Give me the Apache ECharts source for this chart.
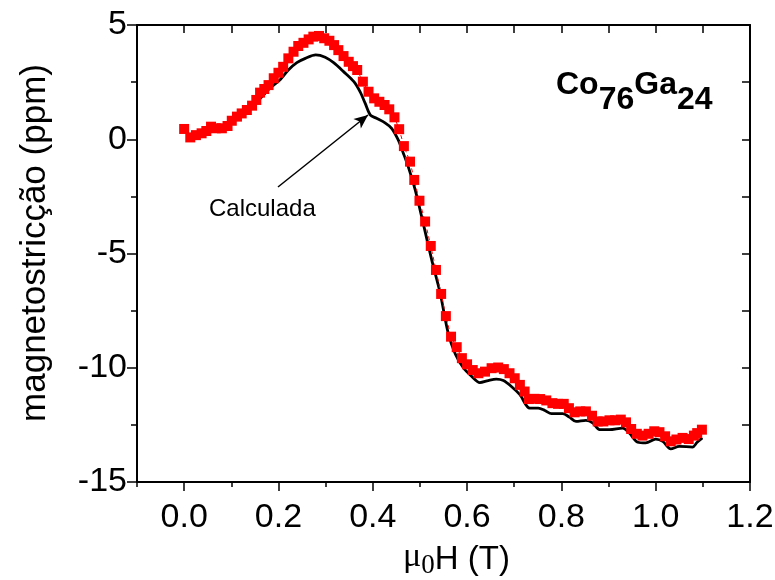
<!DOCTYPE html>
<html>
<head>
<meta charset="utf-8">
<script src="https://cdn.jsdelivr.net/npm/echarts@6/dist/echarts.min.js"></script>
<style>html,body{margin:0;padding:0;background:#fff}#c{width:775px;height:580px}</style>
</head>
<body>
<div id="c"></div>
<script>
// Experimental (red squares)
const expX = [0.000,0.013,0.025,0.037,0.047,0.057,0.067,0.080,0.092,0.101,0.112,0.122,0.133,0.144,0.153,0.161,0.170,0.179,0.190,0.200,0.210,0.221,0.232,0.242,0.253,0.264,0.274,0.286,0.297,0.308,0.318,0.327,0.338,0.349,0.358,0.367,0.379,0.391,0.403,0.414,0.425,0.435,0.446,0.456,0.466,0.479,0.488,0.499,0.511,0.523,0.534,0.545,0.555,0.566,0.578,0.589,0.600,0.612,0.624,0.638,0.652,0.666,0.678,0.690,0.701,0.712,0.722,0.731,0.743,0.755,0.768,0.781,0.793,0.805,0.816,0.828,0.840,0.852,0.865,0.877,0.889,0.902,0.914,0.926,0.937,0.948,0.960,0.972,0.985,0.997,1.008,1.020,1.032,1.044,1.057,1.070,1.081,1.088,1.098];
const expY = [0.45,0.08,0.18,0.26,0.36,0.55,0.48,0.48,0.58,0.81,0.99,1.13,1.28,1.47,1.72,2.04,2.20,2.37,2.67,2.91,3.17,3.54,3.83,4.08,4.22,4.37,4.49,4.52,4.42,4.31,4.12,3.90,3.64,3.39,3.20,3.03,2.52,2.08,1.79,1.64,1.50,1.31,0.96,0.44,-0.30,-0.98,-1.78,-2.69,-3.60,-4.67,-5.72,-6.77,-7.74,-8.64,-9.10,-9.58,-9.85,-10.10,-10.24,-10.17,-10.02,-9.99,-10.06,-10.24,-10.46,-10.75,-11.04,-11.37,-11.36,-11.37,-11.43,-11.55,-11.58,-11.58,-11.77,-11.95,-11.91,-11.91,-12.10,-12.35,-12.35,-12.30,-12.30,-12.27,-12.39,-12.68,-12.89,-12.97,-12.89,-12.78,-12.82,-13.00,-13.22,-13.14,-13.07,-13.12,-12.97,-12.86,-12.71];
// Calculated (black line)
const calcX = [0.144,0.158,0.182,0.204,0.221,0.239,0.257,0.279,0.299,0.317,0.338,0.360,0.373,0.384,0.395,0.408,0.426,0.440,0.454,0.465,0.476,0.490,0.507,0.525,0.543,0.560,0.575,0.592,0.610,0.627,0.645,0.662,0.677,0.694,0.712,0.733,0.751,0.765,0.779,0.803,0.817,0.831,0.852,0.867,0.881,0.902,0.930,0.944,0.962,0.979,1.000,1.015,1.032,1.050,1.078,1.088,1.099];
const calcY = [1.45,1.72,2.23,2.62,3.03,3.35,3.54,3.69,3.59,3.35,2.96,2.52,2.08,1.57,1.06,0.92,0.72,0.48,-0.03,-0.62,-1.25,-2.22,-3.68,-5.28,-6.74,-8.49,-9.40,-10.00,-10.38,-10.65,-10.56,-10.50,-10.56,-10.82,-11.18,-11.77,-11.77,-11.87,-12.01,-12.01,-12.16,-12.35,-12.30,-12.42,-12.71,-12.71,-12.64,-12.86,-13.26,-13.29,-13.12,-13.22,-13.55,-13.44,-13.47,-13.26,-13.07];
const xMajorTicks = [0.0,0.2,0.4,0.6,0.8,1.0,1.2];
const arrowFrom = [0.199,-2.09];
const arrowTo = [0.390,1.06];

const FONT = "'Liberation Sans', Arial, sans-serif";
const SERIF = "'Liberation Serif', 'Times New Roman', serif";
const chart = echarts.init(document.getElementById('c'), null, {renderer:'canvas'});
const blackLine = {color:'#000', width:2};
chart.setOption({
  animation:false,
  backgroundColor:'#fff',
  grid:{left:137, right:25, top:25, bottom:98, containLabel:false, outerBoundsMode:'none'},
  xAxis:[
    {type:'value', position:'bottom', min:-0.1, max:1.2, interval:0.1,
     axisLine:{show:true, onZero:false, lineStyle:blackLine},
     axisTick:{show:true, length:5, lineStyle:{color:'#000', width:1.5}},
     axisLabel:{show:true, customValues:xMajorTicks, formatter:v=>v.toFixed(1), margin:19, fontSize:34, color:'#000', fontFamily:FONT},
     splitLine:{show:false},
     name:'{mu|μ}{sub|0}H (T)', nameLocation:'middle', nameGap:48,
     nameTextStyle:{fontSize:33, color:'#000', fontFamily:FONT, padding:[0,0,0,26],
       rich:{mu:{fontSize:34, fontFamily:SERIF, color:'#000', verticalAlign:'top', lineHeight:34},
             sub:{fontSize:27, fontFamily:SERIF, color:'#000', verticalAlign:'bottom', lineHeight:40}}}
    },
    {type:'value', position:'bottom', min:-0.1, max:1.2,
     axisLine:{show:false, onZero:false},
     axisTick:{show:true, customValues:xMajorTicks, length:9, lineStyle:{color:'#000', width:1.5}},
     axisLabel:{show:false}, splitLine:{show:false}},
    {type:'value', position:'top', min:-0.1, max:1.2, interval:0.1,
     axisLine:{show:true, onZero:false, lineStyle:blackLine},
     axisTick:{show:true, inside:true, length:8, lineStyle:{color:'#000', width:1.5}},
     axisLabel:{show:false}, splitLine:{show:false}}
  ],
  yAxis:[
    {type:'value', position:'left', min:-15, max:5, interval:5,
     axisLine:{show:true, onZero:false, lineStyle:blackLine},
     axisTick:{show:true, length:10, lineStyle:{color:'#000', width:1.5}},
     minorTick:{show:true, splitNumber:2, length:6, lineStyle:{color:'#000', width:1.5}},
     axisLabel:{margin:10, fontSize:34, color:'#000', fontFamily:FONT},
     splitLine:{show:false}},
    {type:'value', position:'right', min:-15, max:5, interval:2.5,
     axisLine:{show:true, onZero:false, lineStyle:blackLine},
     axisTick:{show:true, inside:true, length:8, lineStyle:{color:'#000', width:1.5}},
     axisLabel:{show:false}, splitLine:{show:false}}
  ],
  series:[
    {type:'line', name:'Calculada', xAxisIndex:0, yAxisIndex:0, z:2,
     data:calcX.map((x,i)=>[x,calcY[i]]),
     showSymbol:false, symbol:'none', smooth:0.3,
     lineStyle:{color:'#000', width:2.8},
     markLine:{silent:true, symbol:['none','arrow'], symbolSize:[9,14],
       label:{show:false}, lineStyle:{color:'#000', width:1.5, type:'solid'},
       data:[[{coord:arrowFrom},{coord:arrowTo}]]}},
    {type:'line', name:'Experimental', xAxisIndex:0, yAxisIndex:0, z:3,
     data:expX.map((x,i)=>[x,expY[i]]),
     symbol:'rect', symbolSize:10, showSymbol:true,
     itemStyle:{color:'#ff0000'},
     lineStyle:{color:'#ff0000', width:1, type:[4,3]}}
  ],
  graphic:[
    {type:'text', x:35, y:243, rotation:Math.PI/2, z:10,
     style:{text:'magnetostricção (ppm)', fontSize:35, fontFamily:FONT, fill:'#000', align:'center', verticalAlign:'middle'}},
    {type:'text', left:209, top:197, z:10,
     style:{text:'Calculada', fontSize:24, fontFamily:FONT, fill:'#000'}},
    {type:'text', left:556, top:69, z:10,
     style:{text:'{a|Co}{b|76}{a|Ga}{b|24}', fontFamily:FONT, fill:'#000',
       rich:{a:{fontSize:32, fontWeight:'bold', fontFamily:FONT, fill:'#000', verticalAlign:'top', lineHeight:32},
             b:{fontSize:32, fontWeight:'bold', fontFamily:FONT, fill:'#000', verticalAlign:'bottom', lineHeight:47}}}}
  ]
});
</script>
</body>
</html>
